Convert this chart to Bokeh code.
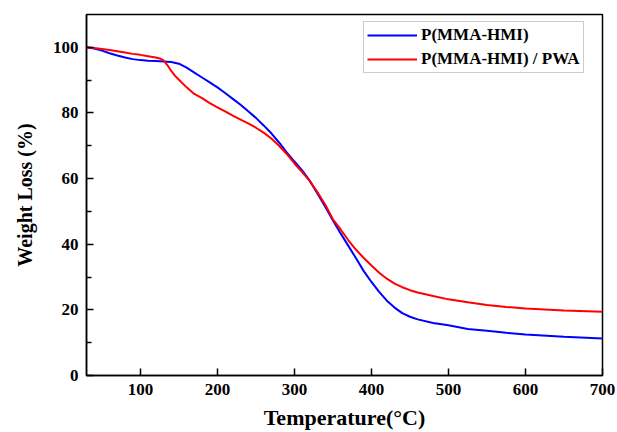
from bokeh.plotting import figure
from bokeh.models import Range1d, FixedTicker, Legend, LegendItem
from bokeh.embed import file_html
from bokeh.resources import INLINE

temp_a = [30, 40, 50, 60, 70, 80, 90, 100, 110, 120, 130, 140, 150, 160, 170, 180,
          190, 200, 210, 220, 230, 240, 250, 260, 270, 280, 290, 300, 310, 320,
          330, 340, 350, 360, 370, 380, 390, 400, 410, 420, 430, 440, 450, 460,
          480, 500, 525, 550, 575, 600, 650, 700]
pmma_hmi = [100, 99.6, 99.0, 98.2, 97.5, 96.9, 96.4, 96.1, 95.9, 95.8, 95.7, 95.5,
            95.0, 93.8, 92.3, 90.8, 89.3, 87.8, 86.1, 84.3, 82.5, 80.5, 78.5, 76.2,
            73.8, 71.0, 68.0, 65.2, 62.5, 59.3, 55.4, 51.4, 47.2, 43.3, 39.5, 35.7,
            31.8, 28.5, 25.5, 22.8, 20.7, 19.0, 17.9, 17.1, 16.0, 15.3, 14.2, 13.6,
            13.0, 12.5, 11.8, 11.3]

temp_b = [30, 40, 50, 60, 70, 80, 90, 100, 110, 120, 125, 130, 135, 140, 145, 150,
          160, 170, 180, 190, 200, 210, 220, 230, 240, 250, 260, 270, 280, 290, 300,
          310, 320, 330, 340, 350, 360, 370, 380, 390, 400, 410, 420, 430, 440, 450,
          460, 480, 500, 525, 550, 575, 600, 650, 700]
pmma_hmi_pwa = [100, 99.8, 99.5, 99.2, 98.8, 98.4, 98.0, 97.7, 97.3, 96.9, 96.6,
                96.0, 94.6, 92.8, 91.3, 90.1, 87.8, 85.8, 84.5, 83.0, 81.7, 80.5,
                79.2, 78.0, 76.8, 75.5, 74.0, 72.2, 70.0, 67.5, 64.6, 62.0, 59.2,
                55.8, 52.0, 47.6, 44.5, 41.2, 38.3, 35.8, 33.5, 31.3, 29.5, 28.0,
                26.9, 26.0, 25.3, 24.2, 23.2, 22.3, 21.5, 20.9, 20.4, 19.8, 19.4]

x_ticks = [100, 200, 300, 400, 500, 600, 700]
y_ticks = [0, 20, 40, 60, 80, 100]
y_minor = [10, 30, 50, 70, 90]

FONT = "Liberation Serif"

p = figure(width=617, height=432, output_backend="svg", toolbar_location=None,
           x_range=Range1d(30, 700), y_range=Range1d(0, 110),
           min_border_left=86, min_border_right=15, min_border_top=14,
           min_border_bottom=56)

p.xgrid.visible = False
p.ygrid.visible = False
p.outline_line_color = "black"
p.outline_line_width = 1.5
p.background_fill_color = "white"
p.border_fill_color = "white"

r1 = p.line(temp_a, pmma_hmi, line_color="#0000ff", line_width=2)
r2 = p.line(temp_b, pmma_hmi_pwa, line_color="#ff0000", line_width=2)

for ax in (p.xaxis[0], p.yaxis[0]):
    ax.axis_line_color = "black"
    ax.axis_line_width = 1.5
    ax.major_tick_in = 7
    ax.major_tick_out = 0
    ax.major_tick_line_color = "black"
    ax.major_tick_line_width = 1.5
    ax.major_label_text_font = FONT
    ax.major_label_text_font_style = "bold"
    ax.major_label_text_font_size = "17px"
    ax.major_label_text_color = "black"
    ax.axis_label_text_font = FONT
    ax.axis_label_text_font_style = "bold"
    ax.axis_label_text_color = "black"

p.xaxis.ticker = FixedTicker(ticks=x_ticks)
p.xaxis.minor_tick_line_color = None
p.xaxis.major_label_standoff = 8
p.xaxis.axis_label = "Temperature(°C)"
p.xaxis.axis_label_text_font_size = "22px"
p.xaxis.axis_label_standoff = 7

p.yaxis.ticker = FixedTicker(ticks=y_ticks, minor_ticks=y_minor)
p.yaxis.minor_tick_in = 5
p.yaxis.minor_tick_out = 0
p.yaxis.minor_tick_line_color = "black"
p.yaxis.minor_tick_line_width = 1.5
p.yaxis.major_label_standoff = 8
p.yaxis.axis_label = "Weight Loss (%)"
p.yaxis.axis_label_text_font_size = "20px"
p.yaxis.axis_label_standoff = 14

legend = Legend(items=[LegendItem(label="P(MMA-HMI)", renderers=[r1]),
                       LegendItem(label="P(MMA-HMI) / PWA", renderers=[r2])],
                location=(277, 302))
legend.label_text_font = FONT
legend.label_text_font_style = "bold"
legend.label_text_font_size = "17px"
legend.label_text_color = "black"
legend.glyph_width = 50
legend.glyph_height = 20
legend.label_height = 20
legend.spacing = 4
legend.padding = 3
legend.margin = 0
legend.label_standoff = 4
legend.border_line_color = "#999999"
legend.border_line_width = 1
legend.background_fill_alpha = 1
p.add_layout(legend, "center")

open("out.html", "w").write(file_html(p, INLINE))
